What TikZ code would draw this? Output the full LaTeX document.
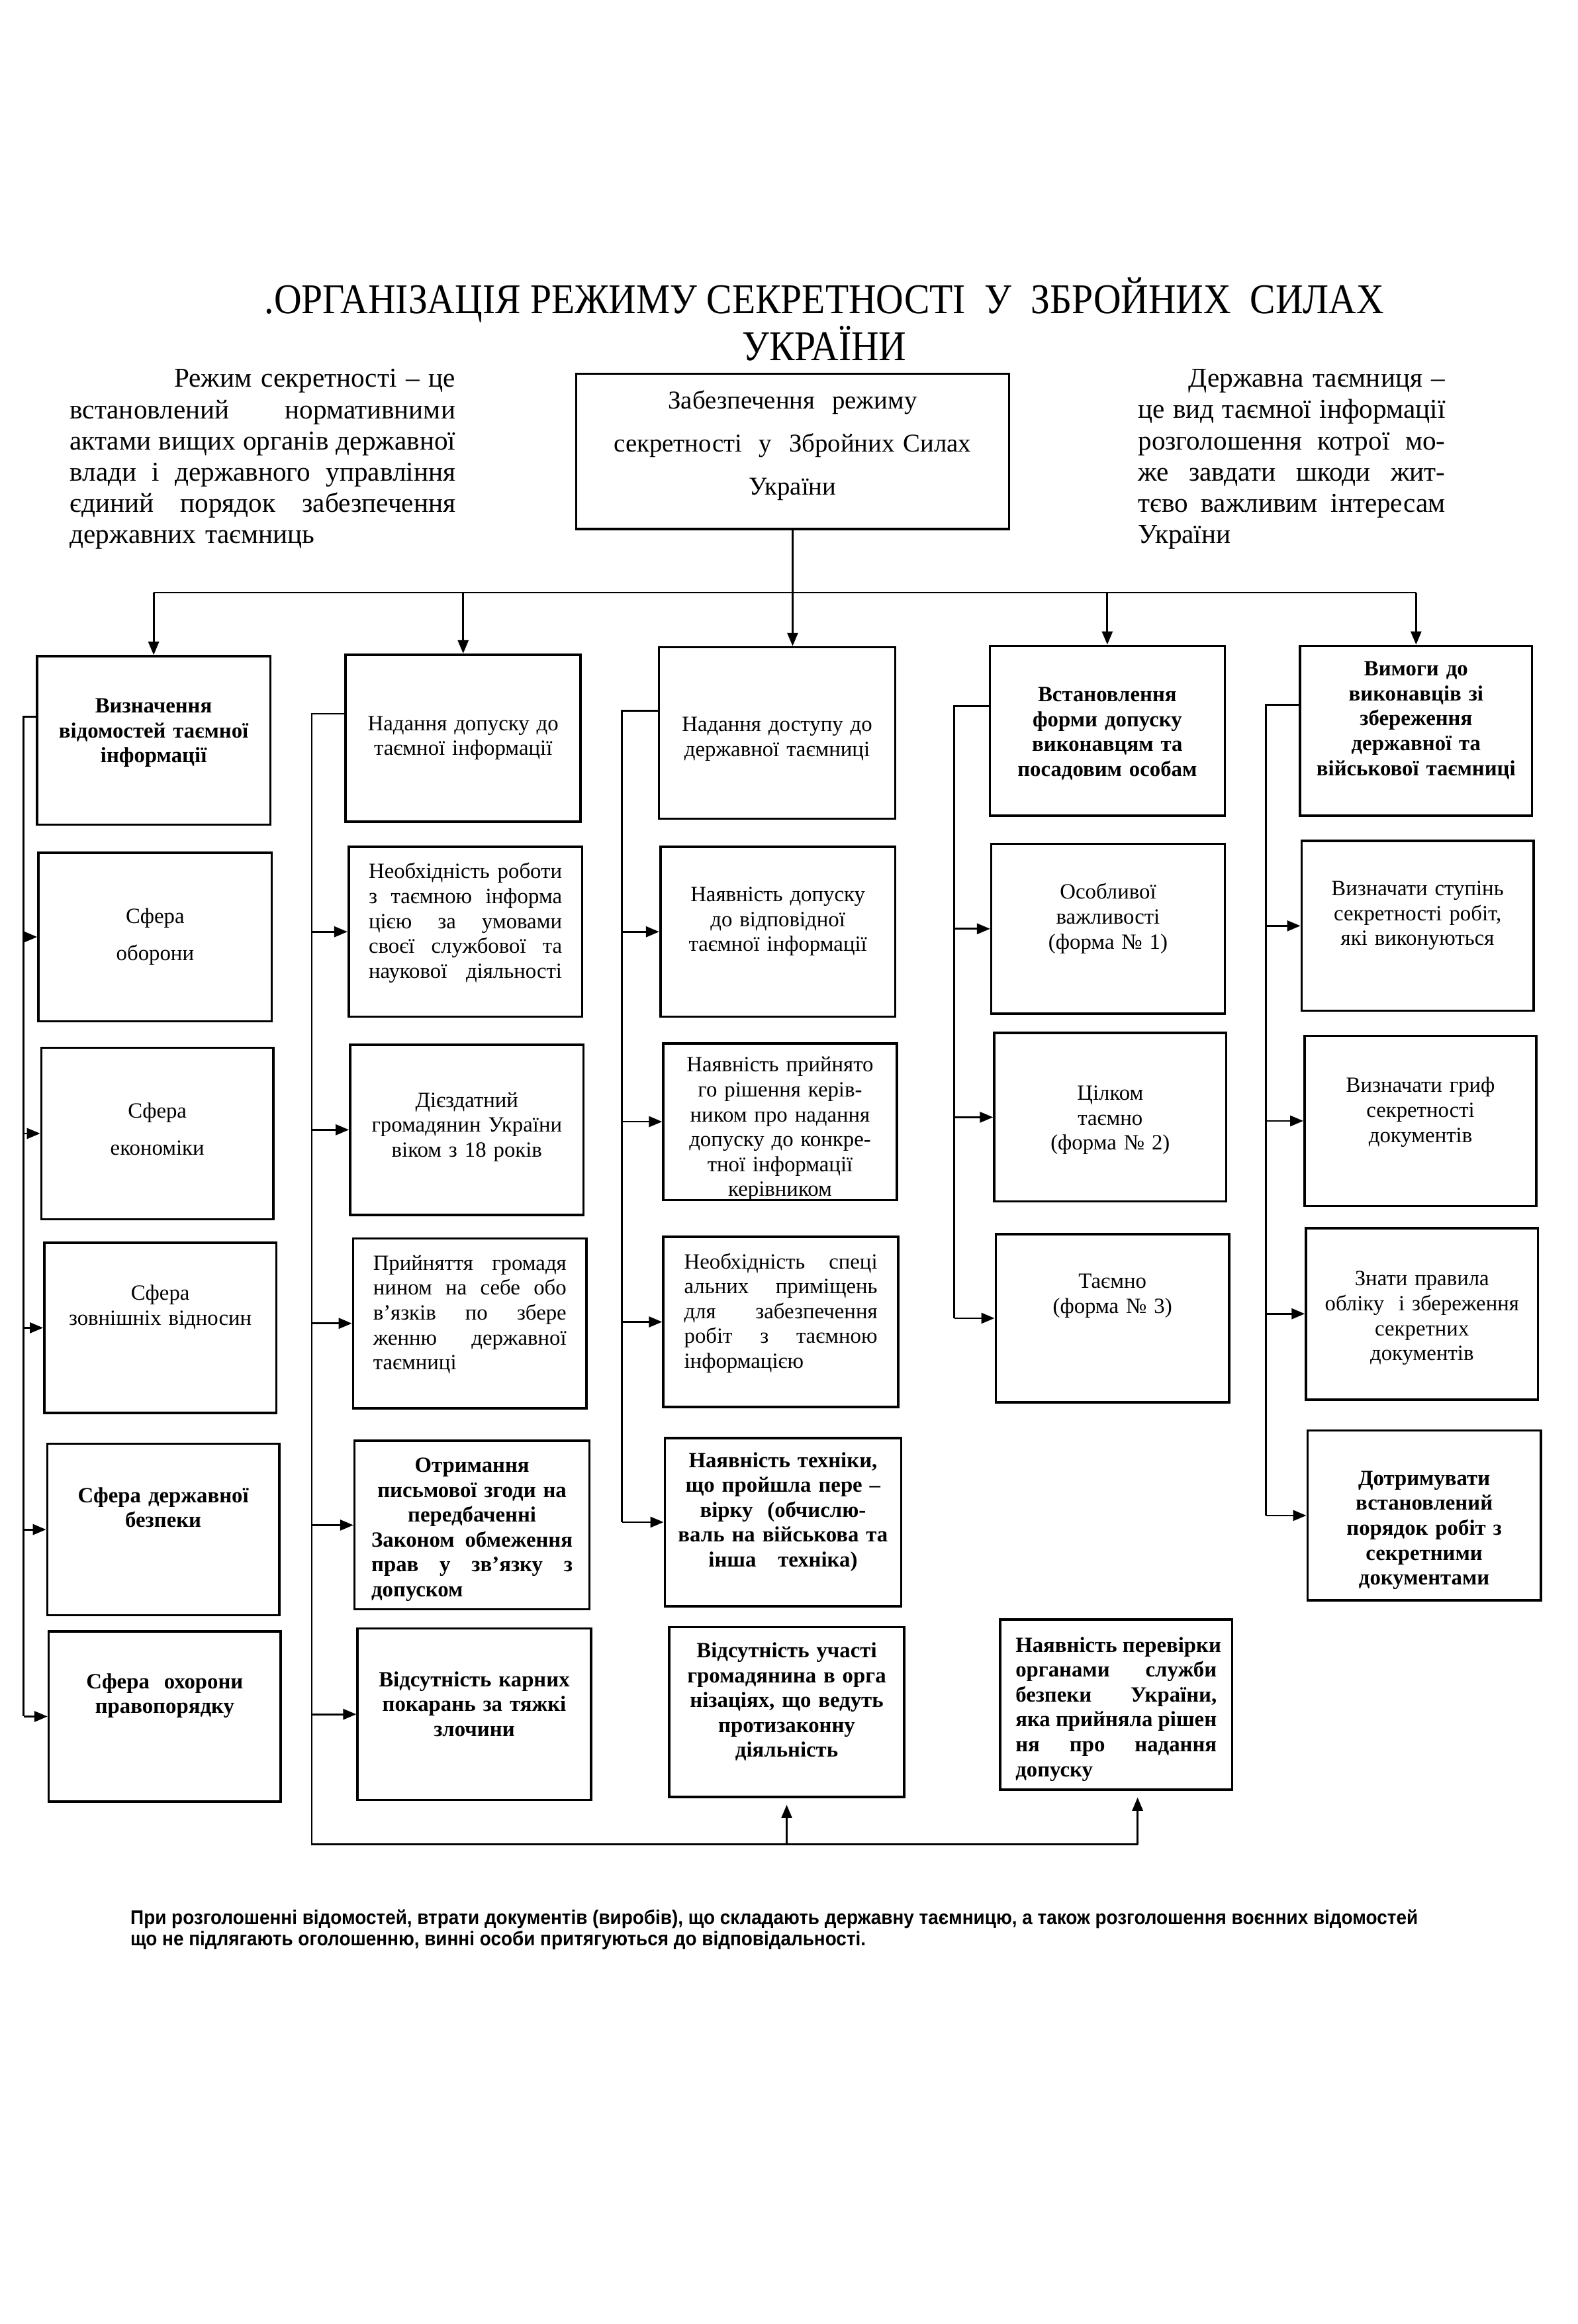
\documentclass[tikz,border=0pt]{standalone}
\usepackage{fontspec}
\usepackage{graphicx}
\setmainfont{Liberation Serif}
\newfontfamily\notefont{Liberation Sans}
\usetikzlibrary{arrows.meta,fit}
\newcommand\jl[1]{\leavevmode\hbox to\hsize{\spaceskip=0.25em plus 1fil\relax #1}}
\newcommand\bx[7][]{%
  \node[box, fit={(#3,#4) (#5,#6)}] (#2) {};
  \node[txt,#1] (#2t) at (#2.center) {#7};}
\tikzset{
  box/.style={draw, line width=0.9pt, inner sep=0pt},
  txt/.style={inner sep=0pt, align=center, text width=85pt, font=\fontsize{8.2}{9.4}\selectfont},
  jtxt/.style={align=left, text width=73pt},
  bld/.style={font=\fontsize{8.2}{9.4}\selectfont\bfseries},
  dy/.style={yshift={-0.558pt*(#1)}},
  ln/.style={line width=0.7pt},
  arr/.style={ln, -{Triangle[length=5pt,width=4pt]}},
  para/.style={inner sep=0pt, align=left, font=\fontsize{10.3}{11.8}\selectfont},
}
\begin{document}
\begin{tikzpicture}[x=0.558pt, y=-0.558pt]
\useasboundingbox (0,0) rectangle (1068.1,1572.6);
\fill[white] (0,0) rectangle (1068.1,1572.6);

% title
\node[inner sep=0pt, align=center, font=\fontsize{16}{17.9}\selectfont] (title) at (558,216)
  {\scalebox{0.9}[1]{.ОРГАНІЗАЦІЯ РЕЖИМУ СЕКРЕТНОСТІ\ \ У\ \ ЗБРОЙНИХ\ \ СИЛАХ}\\\scalebox{0.9}[1]{УКРАЇНИ}};

% side paragraphs
\node[para, text width=145.6pt, anchor=north west] (lp) at (47,249.5)
  {\hfill Режим секретності – це\\
   \jl{встановлений нормативними}\\
   \jl{актами вищих органів державної}\\
   \jl{влади і державного управління}\\
   \jl{єдиний порядок забезпечення}\\
   державних таємниць};
\node[para, text width=116pt, anchor=north west] (rp) at (770,249.5)
  {\hfill Державна таємниця –\\
   \jl{це вид таємної інформації}\\
   \jl{розголошення котрої мо-}\\
   \jl{же завдати шкоди жит-}\\
   \jl{тєво важливим інтересам}\\
   України};

% top box
\bx[dy=-4, text width=160pt, font=\fontsize{9.7}{16.2}\selectfont]{top}{390}{253}{683}{358}
  {Забезпечення\ \ режиму\\секретності\ \ у\ \ Збройних Силах\\України}

% headers
\bx[dy=-5, bld]{h1}{25}{444}{183}{558}{Визначення\\відомостей таємної\\інформації}
\bx{h2}{234}{443}{393}{556}{Надання допуску до\\таємної інформації}
\bx[dy=4]{h3}{446}{438}{606}{554}{Надання доступу до\\державної таємниці}
\bx[dy=2, bld]{h4}{670}{437}{829}{552}{Встановлення\\форми допуску\\виконавцям та\\посадовим особам}
\bx[dy=-7, bld]{h5}{880}{437}{1037}{552}{Вимоги до\\виконавців зі\\збереження\\державної та\\військової таємниці}

% column 1
\bx{c11}{26}{577}{184}{691}{Сфера\\[4.6pt]оборони}
\bx[dy=-3]{c12}{28}{709}{185}{825}{Сфера\\[4.6pt]економіки}
\bx[dy=-14]{c13}{30}{841}{187}{956}{Сфера\\зовнішніх відносин}
\bx[dy=-15, bld]{c14}{32}{977}{189}{1093}{Сфера державної\\безпеки}
\bx[dy=-14, bld]{c15}{33}{1104}{190}{1219}{Сфера\ \ охорони\\правопорядку}

% column 2
\bx[dy=-6, jtxt]{c21}{236}{573}{394}{688}
  {\jl{Необхідність роботи}\\\jl{з таємною інформа}\\\jl{цією за умовами}\\\jl{своєї службової та}\\\jl{наукової діяльності}}
\bx[dy=-2]{c22}{237}{707}{395}{822}{Дієздатний\\громадянин України\\віком з 18 років}
\bx[dy=-6, jtxt]{c23}{239}{838}{397}{953}
  {\jl{Прийняття громадя}\\\jl{нином на себе обо}\\\jl{в’язків по збере}\\\jl{женню державної}\\таємниці}
\bx[dy=3, bld, text width=76pt]{c24}{240}{975}{399}{1089}
  {Отримання\\письмової згоди на\\передбаченні\\\jl{Законом обмеження}\\\jl{прав у зв’язку з}\\\jl{допуском\hfill}}
\bx[dy=-7, bld]{c25}{242}{1102}{400}{1218}{Відсутність карних\\покарань за тяжкі\\злочини}

% column 3
\bx[dy=-7]{c31}{447}{573}{606}{688}{Наявність допуску\\до відповідної\\таємної інформації}
\bx[dy=5]{c32}{449}{706}{607}{812}{Наявність прийнято\\го рішення керів-\\ником про надання\\допуску до конкре-\\тної інформації\\керівником}
\bx[dy=-6, jtxt]{c33}{449}{837}{608}{952}
  {\jl{Необхідність спеці}\\\jl{альних приміщень}\\\jl{для забезпечення}\\\jl{робіт з таємною}\\інформацією}
\bx[dy=-7, bld]{c34}{450}{973}{610}{1087}{Наявність техніки,\\що пройшла пере –\\вірку\ \ (обчислю-\\валь на військова та\\інша\ \ \ техніка)}
\bx[dy=-7, bld]{c35}{453}{1101}{612}{1216}{Відсутність участі\\громадянина в орга\\нізаціях, що ведуть\\протизаконну\\діяльність}

% column 4
\bx[dy=-7]{c41}{671}{571}{829}{686}{Особливої\\важливості\\(форма № 1)}
\bx[dy=2]{c42}{673}{699}{830}{813}{Цілком\\таємно\\(форма № 2)}
\bx[dy=-15]{c43}{674}{835}{832}{949}{Таємно\\(форма № 3)}
\bx[dy=3, jtxt, bld, text width=76pt]{c44}{677}{1096}{834}{1211}
  {\jl{Наявність перевірки}\\\jl{органами служби}\\\jl{безпеки України,}\\\jl{яка прийняла рішен}\\\jl{ня про надання}\\допуску}

% column 5
\bx[dy=-7]{c51}{881}{569}{1038}{684}{Визначати ступінь\\секретності робіт,\\які виконуються}
\bx[dy=-6]{c52}{883}{701}{1040}{816}{Визначати гриф\\секретності\\документів}
\bx[dy=3]{c53}{884}{831}{1041}{947}{Знати правила\\обліку\ \ і збереження\\секретних\\документів}
\bx[dy=10, bld]{c54}{885}{968}{1043}{1083}{Дотримувати\\встановлений\\порядок робіт з\\секретними\\документами}

% top connectors
\coordinate (hl) at (536.5,401);
\draw[ln] (top.south) -- (hl);
\draw[ln] (hl -| h1.north) -- (hl -| h5.north);
\draw[arr] (hl -| h1.north) -- (h1.north);
\draw[arr] (hl -| h2.north) -- (h2.north);
\draw[arr] (hl) -- (hl |- h3.north);
\draw[arr] (hl -| h4.north) -- (h4.north);
\draw[arr] (hl -| h5.north) -- (h5.north);

% column 1 bus
\coordinate (s1) at (16,485);
\draw[ln] (s1 -| h1.west) -- (s1) -- (s1 |- c15.west);
\foreach \n in {c11,c12,c13,c14,c15} \draw[arr] (s1 |- \n.west) -- (\n.west);

% column 2 bus and bottom line
\coordinate (s2) at (211,483);
\coordinate (b2) at (211,1248);
\coordinate (e2) at (770,1248);
\draw[ln] (s2 -| h2.west) -- (s2) -- (b2) -- (e2);
\foreach \n in {c21,c22,c23,c24,c25} \draw[arr] (s2 |- \n.west) -- (\n.west);
\draw[arr, shorten >=2.5pt] (b2 -| c35.south) -- (c35.south);
\draw[arr, shorten >=2.5pt] (e2) -- (e2 |- c44.south);

% column 3 bus
\coordinate (s3) at (421,481);
\draw[ln] (s3 -| h3.west) -- (s3) -- (s3 |- c34.west);
\foreach \n in {c31,c32,c33,c34} \draw[arr] (s3 |- \n.west) -- (\n.west);

% column 4 bus
\coordinate (s4) at (646,478);
\draw[ln] (s4 -| h4.west) -- (s4) -- (s4 |- c43.west);
\foreach \n in {c41,c42,c43} \draw[arr] (s4 |- \n.west) -- (\n.west);

% column 5 bus
\coordinate (s5) at (857,477);
\draw[ln] (s5 -| h5.west) -- (s5) -- (s5 |- c54.west);
\foreach \n in {c51,c52,c53,c54} \draw[arr] (s5 |- \n.west) -- (\n.west);

% bottom note
\node[inner sep=0pt, anchor=north west, font=\notefont\bfseries\fontsize{7.5}{8}\selectfont] (note) at (88,1292)
  {\scalebox{0.93}[1]{\begin{tabular}{@{}l@{}}При розголошенні відомостей, втрати документів (виробів), що складають державну таємницю, а також розголошення воєнних відомостей\\що не підлягають оголошенню, винні особи притягуються до відповідальності.\end{tabular}}};
\end{tikzpicture}
\end{document}
